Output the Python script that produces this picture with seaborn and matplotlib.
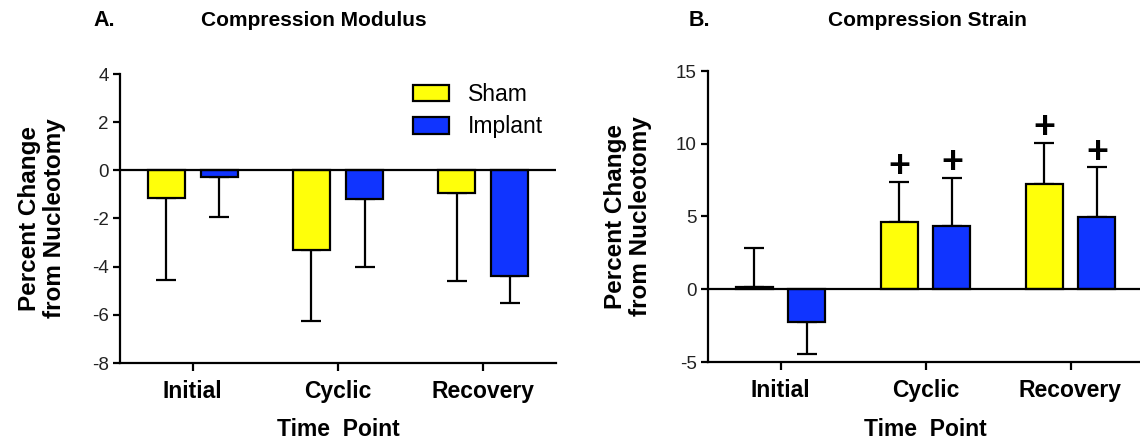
import numpy as np
import pandas as pd
import matplotlib
matplotlib.use("Agg")
import matplotlib.pyplot as plt
from matplotlib.container import BarContainer
import seaborn as sns

# ---------------- data ----------------
time_points = ["Initial", "Cyclic", "Recovery"]
groups = ["Sham", "Implant"]

modulus_sham = [-1.16, -3.30, -0.95]
modulus_implant = [-0.26, -1.17, -4.40]
modulus_sham_err_end = [-4.54, -6.26, -4.61]
modulus_implant_err_end = [-1.94, -4.03, -5.50]

strain_sham = [0.16, 4.60, 7.22]
strain_implant = [-2.25, 4.34, 4.97]
strain_sham_err_end = [2.85, 7.38, 10.07]
strain_implant_err_end = [-4.46, 7.68, 8.37]
strain_sham_sig = [False, True, True]
strain_implant_sig = [False, True, True]

modulus_yticks = [-8, -6, -4, -2, 0, 2, 4]
strain_yticks = [-5, 0, 5, 10, 15]

colors = {"Sham": "#FFFF0A", "Implant": "#1034FF"}

sns.set_style("ticks")
plt.rcParams["font.family"] = ["Liberation Sans", "DejaVu Sans"]
plt.rcParams["axes.linewidth"] = 1.5
plt.rcParams["text.color"] = "black"
plt.rcParams["axes.labelcolor"] = "black"
plt.rcParams["xtick.color"] = "black"
plt.rcParams["ytick.color"] = "black"

fig = plt.figure(figsize=(11.4, 4.4), dpi=100)
W, H = 1140.0, 440.0
axA = fig.add_axes([120 / W, 1 - 363 / H, 436 / W, 289 / H])
axB = fig.add_axes([708 / W, 1 - 362 / H, 435 / W, 291 / H])


def make_df(sham, implant):
    rows = []
    for i, t in enumerate(time_points):
        rows.append({"time": t, "group": "Sham", "value": sham[i]})
        rows.append({"time": t, "group": "Implant", "value": implant[i]})
    return pd.DataFrame(rows)


def draw_panel(ax, sham, implant, sham_err, implant_err, yticks,
               sham_sig=None, implant_sig=None):
    df = make_df(sham, implant)
    sns.barplot(data=df, x="time", y="value", hue="group", order=time_points,
                hue_order=groups, palette=colors, saturation=1, width=0.73,
                gap=0.30, edgecolor="black", linewidth=1.6, errorbar=None,
                legend=False, ax=ax, zorder=3)
    bar_conts = [c for c in ax.containers if isinstance(c, BarContainer)]
    for k, cont in enumerate(bar_conts):
        cont.set_label(groups[k])
    ends = [sham_err, implant_err]
    sigs = [sham_sig, implant_sig]
    vals = [sham, implant]
    for k, cont in enumerate(bar_conts):
        patches = sorted(cont.patches, key=lambda p: p.get_x())
        for i, p in enumerate(patches):
            xc = p.get_x() + p.get_width() / 2
            v = vals[k][i]
            e = ends[k][i]
            lo = max(0.0, v - e)
            hi = max(0.0, e - v)
            ax.errorbar([xc], [v], yerr=[[lo], [hi]], fmt="none",
                        ecolor="black", elinewidth=1.6, capsize=7.5,
                        capthick=1.6, zorder=2)
            if sigs[k] is not None and sigs[k][i]:
                ax.annotate("+", xy=(xc, e), xytext=(0, -2.5),
                            textcoords="offset points", ha="center",
                            va="bottom", fontsize=27, fontweight="bold",
                            color="black")
    ax.axhline(0, color="black", lw=1.6, zorder=4)
    ax.set_xlim(-0.5, 2.5)
    ax.set_ylim(yticks[0], yticks[-1])
    ax.set_yticks(yticks)
    ax.set_yticklabels([str(t) for t in yticks], fontsize=13.5, color="#222222")
    ax.set_xticks(range(len(time_points)))
    ax.set_xticklabels(time_points, fontsize=16.5, fontweight="bold",
                       color="black")
    ax.tick_params(axis="y", length=5, width=1.6, pad=3, color="black")
    ax.tick_params(axis="x", length=6, width=1.6, pad=6, color="black")
    for s in ["top", "right"]:
        ax.spines[s].set_visible(False)
    for s in ["left", "bottom"]:
        ax.spines[s].set_color("black")
        ax.spines[s].set_linewidth(1.6)
    ax.set_xlabel("Time  Point", fontsize=16.5, fontweight="bold",
                  color="black")
    ax.set_ylabel("Percent Change\nfrom Nucleotomy", fontsize=17.5,
                  fontweight="bold", linespacing=1.1, color="black")


draw_panel(axA, modulus_sham, modulus_implant, modulus_sham_err_end,
           modulus_implant_err_end, modulus_yticks)
draw_panel(axB, strain_sham, strain_implant, strain_sham_err_end,
           strain_implant_err_end, strain_yticks, strain_sham_sig,
           strain_implant_sig)

axA.xaxis.set_label_coords(0.5, -(418 - 363) / 289)
axB.xaxis.set_label_coords(0.5, -(418 - 362) / 291)
axA.yaxis.set_label_coords(-(120 - 66) / 436, 0.5)
axB.yaxis.set_label_coords(-(708 - 652) / 435, 0.5)

handles, labels = axA.get_legend_handles_labels()
leg = axA.legend(handles, labels, loc="upper left",
                 bbox_to_anchor=(413 / W, 1 - 83 / H),
                 bbox_transform=fig.transFigure, frameon=False, borderpad=0,
                 borderaxespad=0, handlelength=1.55, handleheight=0.75,
                 handletextpad=0.85, labelspacing=0.4, fontsize=16.5)
for t in leg.get_texts():
    t.set_color("black")

fig.text(93 / W, 1 - 21 / H, "A.", fontsize=15.5, fontweight="bold",
         ha="left", va="center", color="black")
fig.text(314 / W, 1 - 21 / H, "Compression Modulus", fontsize=15,
         fontweight="bold", ha="center", va="center", color="black")
fig.text(689 / W, 1 - 20 / H, "B.", fontsize=15.5, fontweight="bold",
         ha="left", va="center", color="black")
fig.text(927 / W, 1 - 20 / H, "Compression Strain", fontsize=15,
         fontweight="bold", ha="center", va="center", color="black")

fig.savefig("out.png", dpi=100)
